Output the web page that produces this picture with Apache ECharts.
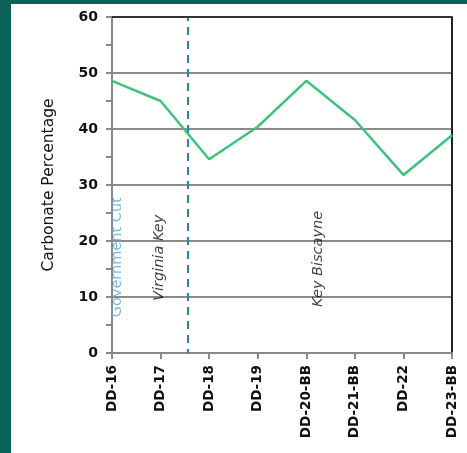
<!DOCTYPE html>
<html>
<head>
<meta charset="utf-8">
<script src="https://cdn.jsdelivr.net/npm/echarts@6/dist/echarts.min.js"></script>
<style>
  html, body { margin: 0; padding: 0; background: #0b6257; width: 467px; height: 453px; overflow: hidden; }
  #chart { position: absolute; left: 11px; top: 4px; width: 456px; height: 449px; background: #ffffff; }
</style>
</head>
<body>
<div id="chart"></div>
<script>
// Sample stations along the transect
const categories = ['DD-16', 'DD-17', 'DD-18', 'DD-19', 'DD-20-BB', 'DD-21-BB', 'DD-22', 'DD-23-BB'];
// Carbonate content (%) per station
const carbonate = [48.6, 45.0, 34.6, 40.4, 48.6, 41.6, 31.8, 38.9];
// Y-axis ticks
const yMin = 0, yMax = 60, yStep = 10;
// Boundary between Virginia Key and Key Biscayne (station index position)
const boundaryPos = 1.56;
// Location names, their position (station index, carbonate level) and colour
const locationNames = ['Government Cut', 'Virginia Key', 'Key Biscayne'];
const locationX = [0.11, 0.97, 4.24];
const locationY = [17.1, 17.0, 16.8];
const locationColors = ['#5aa7d6', '#111111', '#111111'];

const chart = echarts.init(document.getElementById('chart'));
const font = 'Verdana, "DejaVu Sans", sans-serif';

chart.setOption({
  animation: false,
  grid: { left: 101, right: 15, top: 13, bottom: 100, show: false },
  xAxis: [
    {
      type: 'category',
      data: categories,
      boundaryGap: false,
      axisLine: { show: true, lineStyle: { color: '#888888', width: 2 } },
      axisTick: { show: true, alignWithLabel: true, length: 6, lineStyle: { color: '#888888', width: 2 } },
      axisLabel: { rotate: 90, margin: 12, color: '#111111', fontFamily: font, fontSize: 13.5, fontWeight: 'bold' },
      splitLine: { show: false }
    },
    {
      type: 'value',
      min: 0, max: categories.length - 1,
      show: false
    }
  ],
  yAxis: [
    {
      type: 'value',
      min: yMin, max: yMax, interval: yStep,
      name: 'Carbonate Percentage',
      nameLocation: 'middle',
      nameGap: 55,
      nameRotate: 90,
      nameTextStyle: { color: '#111111', fontFamily: font, fontSize: 15.5 },
      axisLine: { show: true, lineStyle: { color: '#888888', width: 2 } },
      axisTick: { show: true, length: 6, lineStyle: { color: '#888888', width: 2 } },
      minorTick: { show: true, splitNumber: 2, length: 6, lineStyle: { color: '#888888', width: 2 } },
      axisLabel: { margin: 14, color: '#111111', fontFamily: font, fontSize: 14, fontWeight: 'bold' },
      splitLine: { show: true, lineStyle: { color: '#8a8a8a', width: 2 } }
    },
    {
      type: 'value',
      min: yMin, max: yMax, interval: yStep,
      position: 'right',
      axisLine: { show: true, onZero: false, lineStyle: { color: '#222222', width: 2 } },
      axisTick: { show: false },
      axisLabel: { show: false },
      splitLine: { show: false }
    }
  ],
  series: [
    {
      type: 'line',
      xAxisIndex: 0,
      yAxisIndex: 0,
      data: carbonate,
      symbol: 'none',
      lineStyle: { color: '#3fc27a', width: 2.5 },
      z: 5
    },
    {
      // dashed boundary between the two islands
      type: 'line',
      xAxisIndex: 1,
      yAxisIndex: 0,
      data: [],
      markLine: {
        silent: true,
        symbol: ['none', 'none'],
        label: { show: false },
        lineStyle: { color: '#2a86a8', type: [8, 6], dashOffset: 4, width: 2 },
        data: [{ xAxis: boundaryPos }]
      }
    },
    {
      type: 'scatter',
      xAxisIndex: 1,
      yAxisIndex: 0,
      symbolSize: 0,
      silent: true,
      data: locationNames.map((n, i) => ({
        value: [locationX[i], locationY[i]],
        name: n,
        label: { color: locationColors[i], fontStyle: i === 0 ? 'normal' : 'italic' }
      })),
      label: {
        show: true,
        position: 'inside',
        rotate: 90,
        formatter: p => p.name,
        fontFamily: font,
        fontSize: 14.5
      }
    },
    {
      // top border of the plot
      type: 'line',
      xAxisIndex: 1,
      yAxisIndex: 0,
      data: [],
      markLine: {
        silent: true,
        symbol: ['none', 'none'],
        label: { show: false },
        lineStyle: { color: '#333333', type: 'solid', width: 2 },
        data: [{ yAxis: yMax }]
      }
    }
  ]
});
</script>
</body>
</html>
